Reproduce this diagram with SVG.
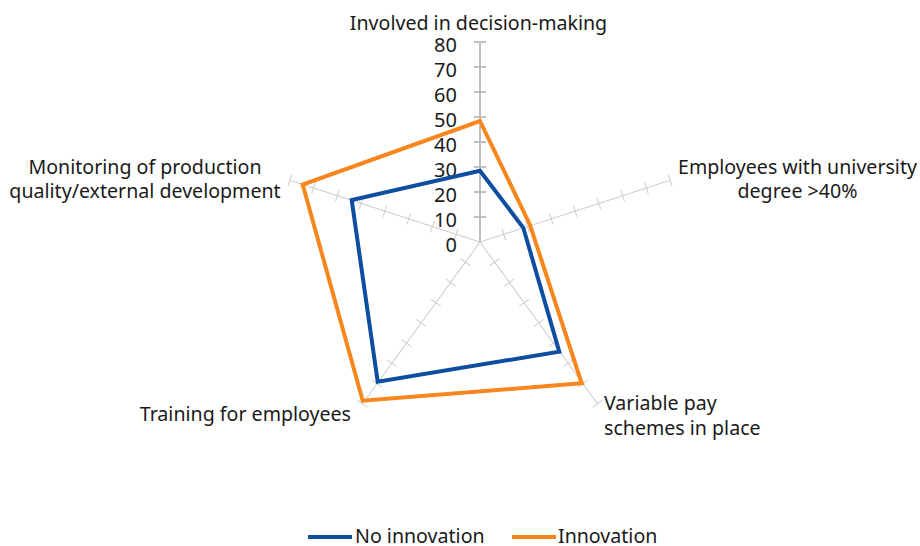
<svg xmlns="http://www.w3.org/2000/svg" xmlns:xlink="http://www.w3.org/1999/xlink" width="920" height="546" viewBox="0 0 920 546">
<style>
  text { font-family: "Noto Sans", "Open Sans", sans-serif; fill: #1a1a1a; }
  .lbl { font-size: 19.6px; }
  .num { font-size: 20px; text-anchor: end; }
  .axmain { stroke: #bfbfbf; stroke-width: 2; fill: none; }
  .axminor { stroke: #cdcdcd; stroke-width: 1; fill: none; }
  .s-no { stroke: #0d4ea1; stroke-width: 4; fill: none; stroke-linejoin: miter; }
  .s-in { stroke: #f7861e; stroke-width: 4; fill: none; stroke-linejoin: miter; }
</style>
<defs>
  <path id="ax" d="M480,242 V42 M474,217 H486 M474,192 H486 M474,167 H486 M474,142 H486 M474,117 H486 M474,92 H486 M474,67 H486 M474,42 H486"/>
</defs>
<rect width="920" height="546" fill="#ffffff"/>
<g id="axes">
  <use href="#ax" class="axminor" transform="rotate(72 480 242)"/>
  <use href="#ax" class="axminor" transform="rotate(144 480 242)"/>
  <use href="#ax" class="axminor" transform="rotate(216 480 242)"/>
  <use href="#ax" class="axminor" transform="rotate(288 480 242)"/>
  <use href="#ax" class="axmain"/>
</g>
<g id="scale">
  <text class="num" x="457" y="252">0</text>
  <text class="num" x="457" y="227">10</text>
  <text class="num" x="457" y="202">20</text>
  <text class="num" x="457" y="177">30</text>
  <text class="num" x="457" y="152">40</text>
  <text class="num" x="457" y="127">50</text>
  <text class="num" x="457" y="102">60</text>
  <text class="num" x="457" y="77">70</text>
  <text class="num" x="457" y="52">80</text>
</g>
<g id="connectors">
  <polygon id="series-no-innovation" class="s-no" points="480,170.7 523.3,227.8 559.3,351.7 377.7,381.7 351.7,200"/>
  <polygon id="series-innovation" class="s-in" points="480,121 530,225 581.7,383.3 362.7,400.7 302.7,184.6"/>
</g>
<g id="node-decision">
  <text class="lbl" x="478.5" y="30" text-anchor="middle">Involved in decision-making</text>
</g>
<g id="node-university">
  <text class="lbl" x="797.5" y="174" text-anchor="middle">Employees with university</text>
  <text class="lbl" x="797.5" y="198" text-anchor="middle">degree &gt;40%</text>
</g>
<g id="node-variable-pay">
  <text class="lbl" x="604" y="410">Variable pay</text>
  <text class="lbl" x="604" y="435">schemes in place</text>
</g>
<g id="node-training">
  <text class="lbl" x="351" y="421" text-anchor="end">Training for employees</text>
</g>
<g id="node-monitoring">
  <text class="lbl" x="145" y="174" text-anchor="middle">Monitoring of production</text>
  <text class="lbl" x="145" y="198" text-anchor="middle">quality/external development</text>
</g>
<g id="legend">
  <line x1="308" y1="537" x2="352" y2="537" class="s-no"/>
  <text class="lbl" x="355" y="543">No innovation</text>
  <line x1="512" y1="537" x2="556" y2="537" class="s-in"/>
  <text class="lbl" x="558" y="543">Innovation</text>
</g>
</svg>
